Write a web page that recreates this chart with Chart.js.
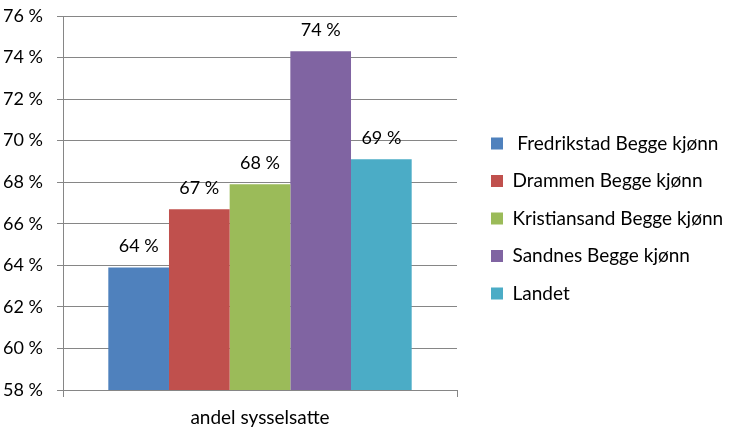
<!DOCTYPE html>
<html>
<head>
<meta charset="utf-8">
<script src="https://cdn.jsdelivr.net/npm/chart.js@4"></script>
<style>
  body { margin: 0; background: #fff; }
  #wrap { width: 730px; height: 435px; }
</style>
</head>
<body>
<div id="wrap"><canvas id="plot" width="730" height="435"></canvas></div>
<script>
var categories = ['andel sysselsatte'];
var seriesNames = [' Fredrikstad Begge kjønn', 'Drammen Begge kjønn', 'Kristiansand Begge kjønn', 'Sandnes Begge kjønn', 'Landet'];
var seriesValues = [63.9, 66.7, 67.9, 74.3, 69.1];
var seriesColors = ['#4F81BD', '#C0504D', '#9BBB59', '#8064A2', '#4BACC6'];
var yMin = 58, yMax = 76, yStep = 2;

var font = 'Lato';

// value labels above the bars
var valueLabels = {
    id: 'valueLabels',
    afterDatasetsDraw: function (chart) {
        var ctx = chart.ctx;
        ctx.save();
        ctx.font = '18px ' + font;
        ctx.fillStyle = '#000';
        ctx.textAlign = 'center';
        ctx.textBaseline = 'alphabetic';
        chart.data.datasets.forEach(function (ds, i) {
            chart.getDatasetMeta(i).data.forEach(function (bar, j) {
                ctx.fillText(Math.round(ds.data[j]) + ' %', bar.x, bar.y - 15);
            });
        });
        ctx.restore();
    }
};

var datasets = seriesNames.map(function (name, i) {
    return {
        label: name,
        data: [seriesValues[i]],
        backgroundColor: seriesColors[i],
        borderWidth: 0
    };
});

var ctx = document.getElementById('plot').getContext('2d');
var myChart = new Chart(ctx, {
    type: 'bar',
    data: {
        labels: categories,
        datasets: datasets
    },
    plugins: [valueLabels],
    options: {
        responsive: false,
        animation: false,
        devicePixelRatio: 1,
        layout: {
            padding: { top: 16, right: 0, bottom: 0, left: 0 }
        },
        datasets: {
            bar: { categoryPercentage: 0.77, barPercentage: 1 }
        },
        plugins: {
            tooltip: { enabled: false },
            legend: {
                position: 'right',
                maxWidth: 300,
                labels: {
                    color: '#000',
                    font: { family: font, size: 19 },
                    boxWidth: 12,
                    boxHeight: 12,
                    padding: 18.5
                }
            }
        },
        scales: {
            x: {
                grid: {
                    color: '#868686',
                    drawOnChartArea: false,
                    tickLength: 7
                },
                border: { color: '#868686' },
                ticks: {
                    color: '#000',
                    font: { family: font, size: 19 },
                    padding: 9
                },
                afterFit: function (scale) { scale.height = 45; }
            },
            y: {
                min: yMin,
                max: yMax,
                grid: {
                    color: '#868686',
                    tickLength: 6
                },
                border: { color: '#868686' },
                ticks: {
                    stepSize: yStep,
                    color: '#000',
                    font: { family: font, size: 18 },
                    padding: 14,
                    callback: function (v) { return v + ' %'; }
                },
                afterFit: function (scale) {
                    scale.width = 63;
                    scale.paddingTop = 0;
                }
            }
        }
    }
});

// legend: fixed width, items nudged right of the plot and up a little
var lg = myChart.legend;
var fit0 = lg.fit;
lg.fit = function () { fit0.call(this); this.width = 273; };
var draw0 = lg.draw;
lg.draw = function () {
    this.left += 15.5; this.top -= 7; this.bottom -= 7;
    draw0.call(this);
    this.left -= 15.5; this.top += 7; this.bottom += 7;
};
myChart.update();
</script>
</body>
</html>
